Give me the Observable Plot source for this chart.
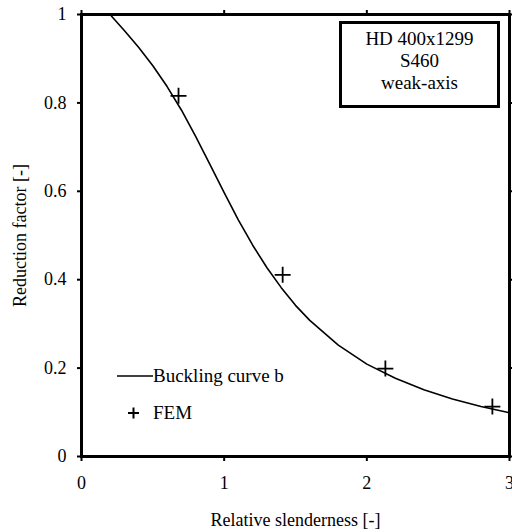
<!DOCTYPE html>
<html>
<head>
<meta charset="utf-8">
<script src="https://cdn.jsdelivr.net/npm/d3@7"></script>
<script src="https://cdn.jsdelivr.net/npm/@observablehq/plot@0.6"></script>
<style>
  body { margin: 0; background: #fff; }
  #wrap { position: relative; width: 512px; height: 532px; overflow: hidden; font-family: "Liberation Serif", "Times New Roman", serif; }
  #wrap svg text { font-family: "Liberation Serif", "Times New Roman", serif; }
  #box { position: absolute; left: 339px; top: 21px; width: 155px; height: 77px; border: 3px solid #000; background: #fff;
         text-align: center; font-size: 19px; line-height: 22px; padding-top: 4px; box-sizing: content-box; }
  #legend { position: absolute; left: 117px; top: 366px; font-size: 19px; }
  .lrow { display: flex; align-items: center; height: 20px; }
</style>
</head>
<body>
<div id="wrap"></div>
<script>
// Buckling curve b
const curveLambda = [0, 0.2, 0.3, 0.4, 0.5, 0.6, 0.7, 0.8, 0.9, 1.0, 1.1, 1.2, 1.3, 1.4, 1.5, 1.6, 1.8, 2.0, 2.2, 2.4, 2.6, 2.8, 3.0];
const curveChi    = [1, 1, 0.964, 0.926, 0.884, 0.837, 0.784, 0.724, 0.661, 0.597, 0.535, 0.478, 0.427, 0.382, 0.342, 0.308, 0.252, 0.209, 0.177, 0.151, 0.130, 0.113, 0.099];
// FEM results
const femLambda = [0.68, 1.41, 2.13, 2.88];
const femChi    = [0.816, 0.411, 0.199, 0.113];
// ticks
const xTicks = [0, 1, 2, 3];
const yTicks = [0, 0.2, 0.4, 0.6, 0.8, 1];
const boxLines = ["HD 400x1299", "S460", "weak-axis"];
const legendLabels = ["Buckling curve b", "FEM"];

const curve = curveLambda.map((x, i) => ({x, y: curveChi[i]}));
const fem = femLambda.map((x, i) => ({x, y: femChi[i]}));

const font = "Liberation Serif";
const chart = Plot.plot({
  width: 512,
  height: 532,
  marginLeft: 81,
  marginRight: 3,
  marginTop: 14,
  marginBottom: 76,
  style: {fontFamily: font, fontSize: "18px", color: "#000", background: "#fff"},
  x: {domain: [0, 3]},
  y: {domain: [0, 1]},
  marks: [
    Plot.line(curve, {x: "x", y: "y", stroke: "#000", strokeWidth: 1.6}),
    Plot.dot(fem, {x: "x", y: "y", symbol: "plus", r: 5.2, stroke: "#000", strokeWidth: 1.8}),
    Plot.axisX({anchor: "bottom", ticks: xTicks, tickSize: 5, tickPadding: 15, strokeWidth: 2, fontSize: 18,
      tickFormat: d => String(d), label: "Relative slenderness [-]", labelAnchor: "center", labelArrow: "none", labelOffset: 69}),
    Plot.axisX({anchor: "top", ticks: xTicks, tickSize: 5, tickFormat: () => "", strokeWidth: 2, label: null}),
    Plot.axisY({anchor: "left", ticks: yTicks, tickSize: 4, tickPadding: 11, strokeWidth: 2, fontSize: 18,
      tickFormat: d => String(d), label: "Reduction factor [-]", labelAnchor: "center", labelArrow: "none", labelOffset: 68}),
    Plot.axisY({anchor: "right", ticks: yTicks, tickSize: 5, tickFormat: () => "", strokeWidth: 2, label: null}),
    Plot.frame({stroke: "#000", strokeWidth: 3})
  ]
});

const wrap = document.getElementById("wrap");
wrap.appendChild(chart);

const box = document.createElement("div");
box.id = "box";
box.innerHTML = boxLines.map(s => `<div>${s}</div>`).join("");
wrap.appendChild(box);

const legend = document.createElement("div");
legend.id = "legend";
legend.innerHTML =
  `<div class="lrow"><svg width="36" height="20"><line x1="0" x2="36" y1="10" y2="10" stroke="#000" stroke-width="1.6"/></svg><span>${legendLabels[0]}</span></div>` +
  `<div class="lrow" style="margin-top:17px"><svg width="36" height="20"><path d="M11,10H22M16.5,4.5V15.5" stroke="#000" stroke-width="2" fill="none"/></svg><span>${legendLabels[1]}</span></div>`;
wrap.appendChild(legend);
</script>
</body>
</html>
